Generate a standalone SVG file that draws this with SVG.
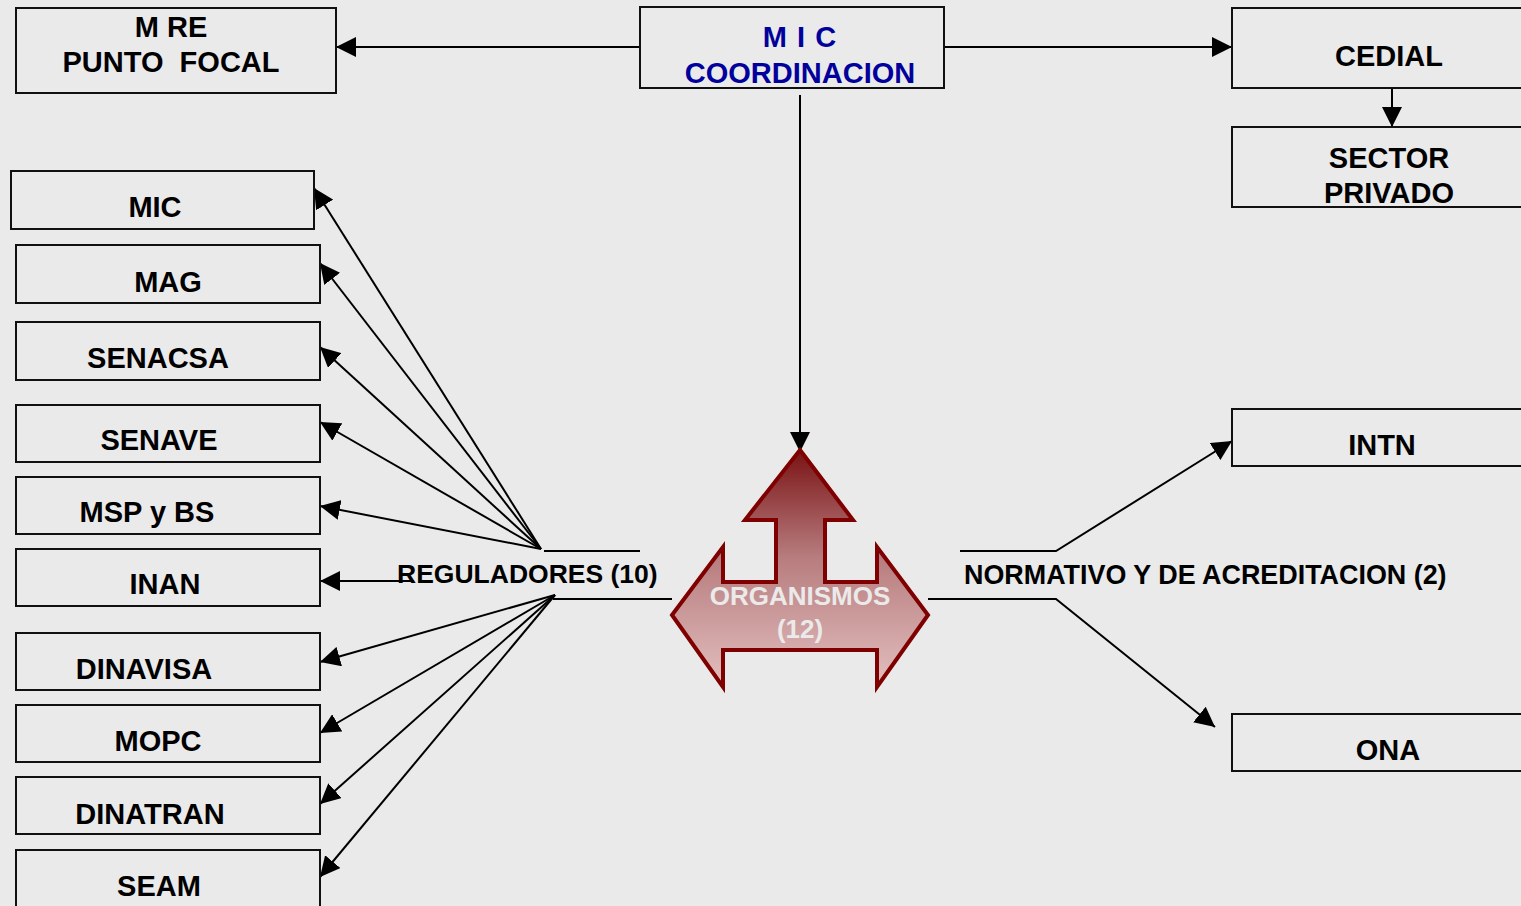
<svg xmlns="http://www.w3.org/2000/svg" width="1521" height="906" viewBox="0 0 1521 906">
<defs>
<style>
.box{fill:none;stroke:#111;stroke-width:2}
.t{font-family:"Liberation Sans",Arial,sans-serif;font-weight:bold;font-size:29px;fill:#000;text-anchor:middle}
.blue{fill:#00009C}
.lbl{font-family:"Liberation Sans",Arial,sans-serif;font-weight:bold;font-size:26.5px;fill:#000}
.ln{fill:none;stroke:#000;stroke-width:2}
.arr{marker-end:url(#ah)}
</style>
<marker id="ah" markerUnits="userSpaceOnUse" markerWidth="20" markerHeight="20" refX="20" refY="10" orient="auto">
<path d="M0,0 L20,10 L0,20 z" fill="#000"/>
</marker>
<linearGradient id="g" x1="0" y1="450" x2="0" y2="687" gradientUnits="userSpaceOnUse">
<stop offset="0" stop-color="#7a1214"/>
<stop offset="0.45" stop-color="#b77c7e"/>
<stop offset="1" stop-color="#e3bfbf"/>
</linearGradient>
</defs>
<rect width="1521" height="906" fill="#EAEAEA"/>

<g id="connectors">
<line class="ln arr" x1="640" y1="47" x2="336" y2="47"/>
<line class="ln arr" x1="944" y1="47" x2="1232" y2="47"/>
<line class="ln arr" x1="1392" y1="88" x2="1392" y2="127"/>
<line class="ln arr" x1="800" y1="95" x2="800" y2="452"/>
<line class="ln arr" x1="541" y1="549" x2="314" y2="188"/>
<line class="ln arr" x1="541" y1="549" x2="320" y2="263"/>
<line class="ln arr" x1="541" y1="549" x2="320" y2="347"/>
<line class="ln arr" x1="541" y1="549" x2="320" y2="422"/>
<line class="ln arr" x1="541" y1="549" x2="320" y2="506"/>
<line class="ln arr" x1="414" y1="581" x2="320" y2="581"/>
<line class="ln arr" x1="555" y1="595" x2="320" y2="662"/>
<line class="ln arr" x1="555" y1="595" x2="320" y2="733"/>
<line class="ln arr" x1="555" y1="595" x2="320" y2="804"/>
<line class="ln arr" x1="555" y1="595" x2="320" y2="877"/>
<line class="ln" x1="544" y1="551" x2="640" y2="551"/>
<line class="ln" x1="553" y1="599" x2="672" y2="599"/>
<polyline class="ln arr" points="960,551 1056,551 1232,441"/>
<polyline class="ln arr" points="928,599 1056,599 1215,727"/>
</g>

<g id="mre">
<rect class="box" x="16" y="8" width="320" height="85"/>
<text class="t" x="171" y="37">M RE</text>
<text class="t" x="171" y="72" xml:space="preserve">PUNTO  FOCAL</text>
</g>
<g id="mic-coord">
<rect class="box" x="640" y="7" width="304" height="81"/>
<text class="t blue" x="800" y="47" letter-spacing="1">M I C</text>
<text class="t blue" x="800" y="83">COORDINACION</text>
</g>
<g id="cedial">
<rect class="box" x="1232" y="8" width="300" height="80"/>
<text class="t" x="1389" y="66">CEDIAL</text>
</g>
<g id="sector-privado">
<rect class="box" x="1232" y="127" width="300" height="80"/>
<text class="t" x="1389" y="168">SECTOR</text>
<text class="t" x="1389" y="203">PRIVADO</text>
</g>

<g id="mic"><rect class="box" x="11" y="171" width="303" height="58"/><text class="t" x="155" y="217">MIC</text></g>
<g id="mag"><rect class="box" x="16" y="245" width="304" height="58"/><text class="t" x="168" y="292">MAG</text></g>
<g id="senacsa"><rect class="box" x="16" y="322" width="304" height="58"/><text class="t" x="158" y="368">SENACSA</text></g>
<g id="senave"><rect class="box" x="16" y="405" width="304" height="57"/><text class="t" x="159" y="450">SENAVE</text></g>
<g id="msp"><rect class="box" x="16" y="477" width="304" height="57"/><text class="t" x="147" y="522">MSP y BS</text></g>
<g id="inan"><rect class="box" x="16" y="549" width="304" height="57"/><text class="t" x="165" y="594">INAN</text></g>
<g id="dinavisa"><rect class="box" x="16" y="633" width="304" height="57"/><text class="t" x="144" y="679">DINAVISA</text></g>
<g id="mopc"><rect class="box" x="16" y="705" width="304" height="57"/><text class="t" x="158" y="751">MOPC</text></g>
<g id="dinatran"><rect class="box" x="16" y="777" width="304" height="57"/><text class="t" x="150" y="824">DINATRAN</text></g>
<g id="seam"><rect class="box" x="16" y="850" width="304" height="70"/><text class="t" x="159" y="896">SEAM</text></g>

<g id="intn"><rect class="box" x="1232" y="409" width="300" height="57"/><text class="t" x="1382" y="455">INTN</text></g>
<g id="ona"><rect class="box" x="1232" y="714" width="300" height="57"/><text class="t" x="1388" y="760">ONA</text></g>

<g id="reguladores"><text class="lbl" x="397" y="583">REGULADORES (10)</text></g>
<g id="normativo"><text class="lbl" x="964" y="584" font-size="26.9" style="font-size:26.9px">NORMATIVO Y DE ACREDITACION (2)</text></g>

<g id="organismos">
<polygon points="800,450 853,520 825,520 825,582 877,582 877,547 928,615 877,687 877,650 723,650 723,687 672,615 723,547 723,582 776,582 776,520 745,520" fill="url(#g)" stroke="#7F0000" stroke-width="4" stroke-linejoin="miter"/>
<text class="lbl" x="800" y="605" text-anchor="middle" style="fill:#EAEAEA;font-size:26px">ORGANISMOS</text>
<text class="lbl" x="800" y="638" text-anchor="middle" style="fill:#EAEAEA;font-size:26px">(12)</text>
</g>
</svg>
